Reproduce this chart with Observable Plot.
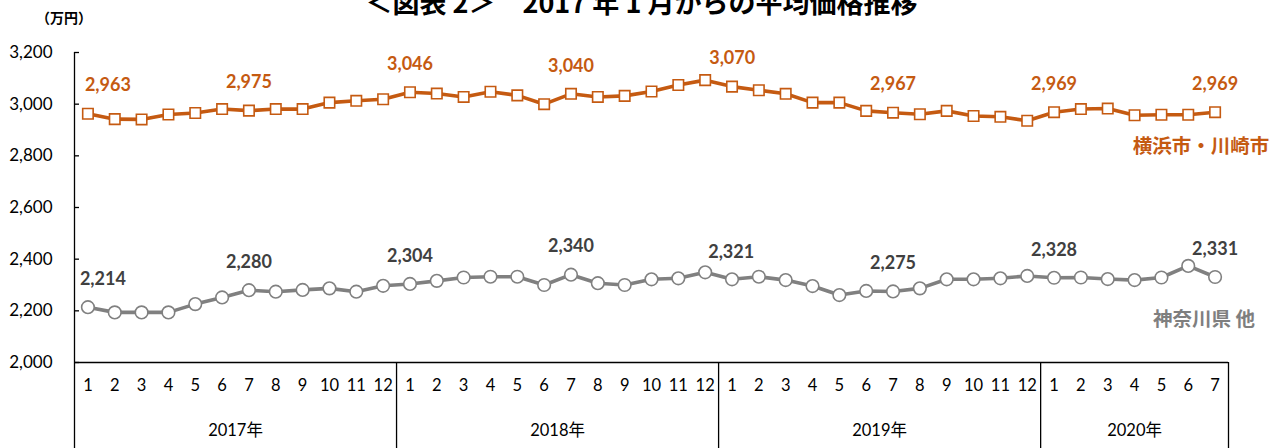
<!DOCTYPE html>
<html><head><meta charset="utf-8">
<script src="https://cdn.jsdelivr.net/npm/d3@7"></script>
<script src="https://cdn.jsdelivr.net/npm/@observablehq/plot@0.6"></script>
<style>
body{margin:0;background:#fff;overflow:hidden}
#wrap{position:relative;width:1283px;height:448px;font-family:Lato,"Noto Sans CJK JP",sans-serif;overflow:hidden}
#title{position:absolute;top:-14px;left:0;width:1283px;text-align:center;font-size:27px;line-height:32px;font-weight:bold;color:#000;white-space:pre;font-family:"Noto Sans CJK JP",sans-serif}
#unit{position:absolute;left:36px;top:7px;font-size:14px;font-weight:bold;font-family:"Noto Sans CJK JP",sans-serif}
#chart{position:absolute;left:0;top:0}
</style></head><body>
<div id="wrap"><div id="chart"></div><div id="title">＜図表 2＞　2017 年 1 月からの平均価格推移</div><div id="unit">（万円）</div></div>
<script>
// ---- data ----
const years = ["2017年", "2018年", "2019年", "2020年"];
const yearStartIndex = [0, 12, 24, 36];
const months = [1,2,3,4,5,6,7,8,9,10,11,12, 1,2,3,4,5,6,7,8,9,10,11,12, 1,2,3,4,5,6,7,8,9,10,11,12, 1,2,3,4,5,6,7];
const yokohama = [2963,2942,2941,2960,2966,2981,2975,2981,2981,3006,3013,3019,
                  3046,3041,3028,3048,3034,3000,3040,3028,3032,3049,3074,3093,
                  3068,3054,3040,3006,3006,2974,2967,2961,2974,2954,2951,2936,
                  2969,2981,2983,2957,2959,2959,2969];
const kanagawa = [2214,2194,2194,2194,2226,2252,2280,2274,2281,2287,2274,2297,
                  2304,2316,2329,2332,2332,2300,2340,2307,2300,2322,2326,2349,
                  2322,2332,2319,2296,2261,2277,2275,2287,2322,2322,2326,2335,
                  2328,2329,2323,2319,2329,2374,2331];
const labelIndex = [0, 6, 12, 18, 23, 30, 36, 42];
const yokohamaLabelText = ["2,963","2,975","3,046","3,040","3,070","2,967","2,969","2,969"];
const kanagawaLabelText = ["2,214","2,280","2,304","2,340","2,321","2,275","2,328","2,331"];
const seriesNames = ["横浜市・川崎市", "神奈川県 他"];
const yTicks = [2000, 2200, 2400, 2600, 2800, 3000, 3200];

// ---- layout ----
const W = 1283, H = 448, mL = 74, mR = 55, mT = 52, mB = 86;
const n = months.length;
const step = (W - mL - mR) / n;
const orange = "#C55A11", grayLine = "#808080", grayText = "#404040", grayName = "#7F7F7F";

const rows = months.map((m, i) => ({i, month: m, yoko: yokohama[i], kana: kanagawa[i]}));
const yokoLab = labelIndex.map((i, k) => ({i, v: yokohama[i], text: yokohamaLabelText[k]}));
const kanaLab = labelIndex.map((i, k) => ({i, v: kanagawa[i], text: kanagawaLabelText[k]}));
const yearRows = years.map((y, k) => ({i: yearStartIndex[k], name: y,
  len: (k + 1 < years.length ? yearStartIndex[k + 1] : n) - yearStartIndex[k]}));

const plot = Plot.plot({
  width: W, height: H,
  marginLeft: mL, marginRight: mR, marginTop: mT, marginBottom: mB,
  style: {fontFamily: 'Lato, "Noto Sans CJK JP", sans-serif', fontSize: "16px", color: "#000", background: "transparent", overflow: "visible"},
  x: {type: "point", domain: d3.range(n), padding: 0.5, axis: null},
  y: {domain: [2000, 3200], axis: null},
  marks: [
    // y tick labels
    Plot.axisY({ticks: yTicks, tickFormat: d3.format(","), tickSize: 0, tickPadding: 22, fontSize: 17, label: null}),
    // inward y ticks
    Plot.ruleY(yTicks, {stroke: "#000", strokeWidth: 1.3, insetRight: (W - mL - mR) - 5}),
    // x-axis line
    Plot.ruleY([2000], {stroke: "#000", strokeWidth: 1.3}),
    // y-axis line, continuing down through the month/year table
    Plot.ruleX([0], {stroke: "#000", strokeWidth: 1.3, dx: -step / 2, insetBottom: -mB}),
    // year dividers
    Plot.ruleX(yearStartIndex.slice(1), {stroke: "#000", strokeWidth: 1.3, dx: -step / 2, insetTop: H - mT - mB, insetBottom: -mB}),
    Plot.ruleX([n - 1], {stroke: "#000", strokeWidth: 1.3, dx: step / 2, insetTop: H - mT - mB, insetBottom: -mB}),
    // month labels
    Plot.text(rows, {x: "i", text: "month", frameAnchor: "bottom", dy: 28, fontSize: 16.5, fill: "#000"}),
    // year labels
    Plot.text(yearRows.filter(d => d.len % 2 === 0), {x: d => d.i + d.len / 2, text: "name", frameAnchor: "bottom", dy: 73, dx: -step / 2, fontSize: 16.5, fill: "#000"}),
    Plot.text(yearRows.filter(d => d.len % 2 === 1), {x: d => d.i + (d.len - 1) / 2, text: "name", frameAnchor: "bottom", dy: 73, fontSize: 16.5, fill: "#000"}),
    // series lines
    Plot.line(rows, {x: "i", y: "yoko", stroke: orange, strokeWidth: 3.6}),
    Plot.dot(rows, {x: "i", y: "yoko", symbol: "square", r: 5.9, fill: "white", stroke: orange, strokeWidth: 1.6}),
    Plot.line(rows, {x: "i", y: "kana", stroke: grayLine, strokeWidth: 3.6}),
    Plot.dot(rows, {x: "i", y: "kana", symbol: "circle", r: 6.3, fill: "white", stroke: grayLine, strokeWidth: 1.6}),
    // data labels (orange)
    Plot.text(yokoLab.filter(d => d.i === 0), {x: "i", y: "v", text: "text", dy: -28, dx: 20, fill: orange, fontWeight: "bold", fontSize: 18}),
    Plot.text(yokoLab.filter(d => d.i !== 0 && d.i !== 23), {x: "i", y: "v", text: "text", dy: -28, fill: orange, fontWeight: "bold", fontSize: 18}),
    Plot.text(yokoLab.filter(d => d.i === 23), {x: "i", y: "v", text: "text", dy: -22, dx: 27, fill: orange, fontWeight: "bold", fontSize: 18}),
    // data labels (gray)
    Plot.text(kanaLab.filter(d => d.i === 0), {x: "i", y: "v", text: "text", dy: -28, dx: 15, fill: grayText, fontWeight: "bold", fontSize: 18}),
    Plot.text(kanaLab.filter(d => d.i !== 0 && d.i !== 23), {x: "i", y: "v", text: "text", dy: -28, fill: grayText, fontWeight: "bold", fontSize: 18}),
    Plot.text(kanaLab.filter(d => d.i === 23), {x: "i", y: "v", text: "text", dy: -20, dx: 26, fill: grayText, fontWeight: "bold", fontSize: 18}),
    // series names
    Plot.text([{i: n - 1, v: yokohama[n - 1], name: seriesNames[0]}], {x: "i", y: "v", text: "name", dx: -14, dy: 35, fill: orange, fontWeight: "bold", fontSize: 19.5, fontFamily: '"Noto Sans CJK JP", sans-serif'}),
    Plot.text([{i: n - 1, v: kanagawa[n - 1], name: seriesNames[1]}], {x: "i", y: "v", text: "name", dx: -11, dy: 43, fill: grayName, fontWeight: "bold", fontSize: 19.5, fontFamily: '"Noto Sans CJK JP", sans-serif'})
  ]
});
document.getElementById("chart").appendChild(plot);
</script>
</body></html>
